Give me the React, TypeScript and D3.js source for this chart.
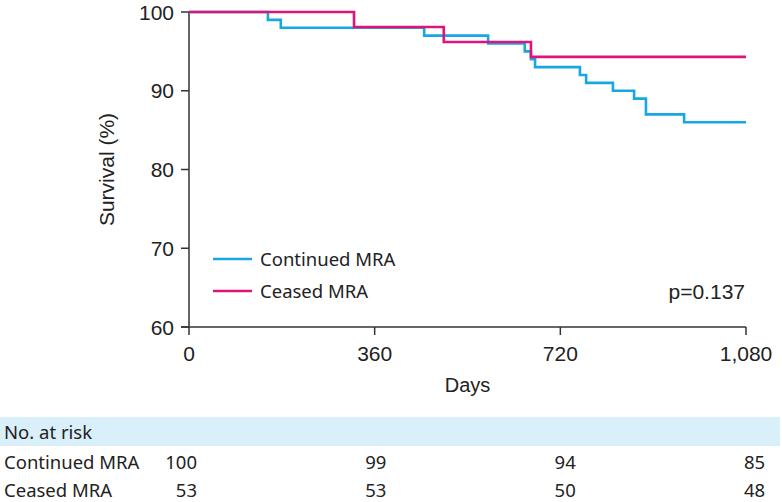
import React from "react";
import * as d3 from "d3";

const continuedTimes = [0, 153, 178, 456, 580, 651, 663, 671, 758, 770, 822, 863, 886, 960, 1080];
const continuedSurv = [100, 99, 98, 97, 96, 95, 94, 93, 92, 91, 90, 89, 87, 86, 86];
const ceasedTimes = [0, 320, 494, 663, 1080];
const ceasedSurv = [100, 98.1, 96.2, 94.3, 94.3];

const xTicks = [0, 360, 720, 1080];
const yTicks = [60, 70, 80, 90, 100];
const seriesNames = ["Continued MRA", "Ceased MRA"];
const atRiskContinued = [100, 99, 94, 85];
const atRiskCeased = [53, 53, 50, 48];
const pValue = "p=0.137";

const BLUE = "#18a7e5";
const RED = "#e0137b";
const AXIS = "#333";

export default function App() {
  const W = 782, H = 502;
  const x = d3.scaleLinear().domain([0, 1080]).range([189, 746]);
  const y = d3.scaleLinear().domain([60, 100]).range([327, 12]);
  const line = d3.line<[number, number]>().x(d => x(d[0])).y(d => y(d[1])).curve(d3.curveStepAfter);
  const contPts = continuedTimes.map((t, i) => [t, continuedSurv[i]] as [number, number]);
  const ceasPts = ceasedTimes.map((t, i) => [t, ceasedSurv[i]] as [number, number]);
  const fmt = d3.format(",");
  const arial = "'Liberation Sans', Arial, sans-serif";
  const noto = "'Noto Sans', sans-serif";
  const tfs = 18.5;

  return (
    <div style={{ position: "absolute", left: 0, top: 0 }}>
      <svg width={W} height={H} style={{ display: "block", background: "#fff" }}>
        {/* axes */}
        <line x1={x(0)} x2={x(0)} y1={y(100)} y2={y(60)} stroke={AXIS} strokeWidth={1.5} />
        <line x1={x(0) - 8} x2={x(1080)} y1={y(60)} y2={y(60)} stroke={AXIS} strokeWidth={1.5} />
        {yTicks.map(t => (
          <g key={"y" + t}>
            <line x1={x(0) - 8} x2={x(0)} y1={y(t)} y2={y(t)} stroke={AXIS} strokeWidth={1.5} />
            <text x={174} y={y(t)} dy="0.36em" textAnchor="end" fontFamily={arial} fontSize={21} fill="#222">{t}</text>
          </g>
        ))}
        {xTicks.map(t => (
          <g key={"x" + t}>
            <line x1={x(t)} x2={x(t)} y1={y(60)} y2={y(60) + 8} stroke={AXIS} strokeWidth={1.5} />
            <text x={x(t)} y={353} dy="0.36em" textAnchor="middle" fontFamily={arial} fontSize={21} fill="#222">{fmt(t)}</text>
          </g>
        ))}
        <text x={(x(0) + x(1080)) / 2} y={385} dy="0.36em" textAnchor="middle" fontFamily={arial} fontSize={20} fill="#222">Days</text>
        <text transform={`translate(106,${y(80)}) rotate(-90)`} textAnchor="middle" dy="0.36em" fontFamily={arial} fontSize={21} fill="#222">Survival (%)</text>

        {/* curves */}
        <path d={line(contPts) || ""} fill="none" stroke={BLUE} strokeWidth={2.6} />
        <path d={line(ceasPts) || ""} fill="none" stroke={RED} strokeWidth={2.6} />

        {/* legend */}
        {[BLUE, RED].map((c, i) => (
          <g key={"lg" + i}>
            <line x1={213} x2={252} y1={259 + i * 32} y2={259 + i * 32} stroke={c} strokeWidth={2.6} />
            <text x={260} y={259 + i * 32} dy="0.36em" fontFamily={noto} fontSize={tfs} fill="#222">{seriesNames[i]}</text>
          </g>
        ))}
        <text x={745} y={291} dy="0.36em" textAnchor="end" fontFamily={arial} fontSize={21} fill="#222">{pValue}</text>

        {/* at risk table */}
        <rect x={0} y={417} width={780} height={29} fill="#d9eff9" />
        <text x={4} y={432} dy="0.36em" fontFamily={noto} fontSize={tfs} fill="#222">No. at risk</text>
        <text x={4} y={462} dy="0.36em" fontFamily={noto} fontSize={tfs} fill="#222">{seriesNames[0]}</text>
        <text x={4} y={490} dy="0.36em" fontFamily={noto} fontSize={tfs} fill="#222">{seriesNames[1]}</text>
        {xTicks.map((t, i) => (
          <g key={"r" + t}>
            <text x={x(t) + 8 + i * 3.7} y={462} dy="0.36em" textAnchor="end" fontFamily={noto} fontSize={tfs} fill="#222">{atRiskContinued[i]}</text>
            <text x={x(t) + 8 + i * 3.7} y={490} dy="0.36em" textAnchor="end" fontFamily={noto} fontSize={tfs} fill="#222">{atRiskCeased[i]}</text>
          </g>
        ))}
      </svg>
    </div>
  );
}
